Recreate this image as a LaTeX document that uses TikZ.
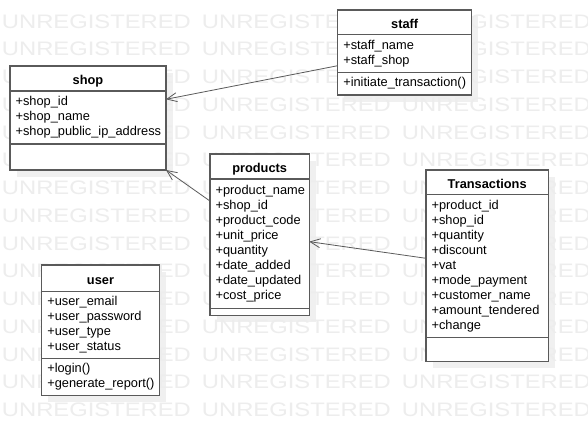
\documentclass[tikz,border=0pt]{standalone}
\usepackage{fontspec}
\setmainfont{Liberation Sans}
\usepackage{graphicx}
\usepackage{tikz}
\usetikzlibrary{arrows.meta, backgrounds}
\definecolor{wmgray}{HTML}{EDEDED}
\definecolor{shadowgray}{HTML}{F0F0F0}
\definecolor{linegray}{HTML}{5A5A5A}
\newcommand{\umlfont}{\fontsize{12.8}{15}\selectfont}
\tikzset{
  classhead/.style={draw=linegray, fill=white, line width=1.1pt, outer sep=0pt, anchor=north west, inner sep=0pt, minimum width=#1, text height=12pt, text depth=0pt, font=\umlfont\bfseries},
  classpart/.style={draw=linegray, fill=white, line width=1.1pt, outer sep=0pt, anchor=north west, inner xsep=5.6pt, inner ysep=0pt, text width=#1-11.2pt, align=left, font=\umlfont},
  assoc/.style={draw=linegray, line width=0.8pt, -{Straight Barb[length=10pt,width=9pt]}},
  watermark/.style={anchor=west, inner sep=0pt, text=wmgray, font=\fontsize{19.5}{19.5}\selectfont}
}

\begin{document}
\begin{tikzpicture}[x=1pt, y=-1pt]
        \useasboundingbox (0,0) rectangle (588,436);
        \clip (0,0) rectangle (588,436);
        \foreach \r in {0,...,14}{
          \foreach \c in {0,1,2}{
            \node[watermark] (wm-\r-\c) at (1.7+200*\c, 21.5+27.75*\r) {\scalebox{1.22}[1]{UNREGISTERED}};
          }
        }
        % shop
        \node[classhead=156pt, minimum height=25pt] (shop-t) at (10,66) {shop};
        \node[classpart=156pt, minimum height=53pt] (shop-a) at (shop-t.south west) {+shop\_id\\+shop\_name\\+shop\_public\_ip\_address};
        \node[classpart=156pt, minimum height=26pt] (shop-m) at (shop-a.south west) {};
        % staff
        \node[classhead=134pt, minimum height=24.3pt] (staff-t) at (337.7,10) {staff};
        \node[classpart=134pt, minimum height=38pt] (staff-a) at (staff-t.south west) {+staff\_name\\+staff\_shop};
        \node[classpart=134pt, minimum height=22.7pt] (staff-m) at (staff-a.south west) {+initiate\_transaction()};
        % products
        \node[classhead=99.3pt, minimum height=25pt] (prod-t) at (210,154) {products};
        \node[classpart=99.3pt, minimum height=129.3pt] (prod-a) at (prod-t.south west) {+product\_name\\+shop\_id\\+product\_code\\+unit\_price\\+quantity\\+date\_added\\+date\_updated\\+cost\_price};
        \node[classpart=99.3pt, minimum height=7.4pt] (prod-m) at (prod-a.south west) {};
        % Transactions
        \node[classhead=122.3pt, minimum height=24.3pt] (trans-t) at (426,170) {Transactions};
        \node[classpart=122.3pt, minimum height=143.4pt] (trans-a) at (trans-t.south west) {+product\_id\\+shop\_id\\+quantity\\+discount\\+vat\\+mode\_payment\\+customer\_name\\+amount\_tendered\\+change};
        \node[classpart=122.3pt, minimum height=24pt] (trans-m) at (trans-a.south west) {};
        % user
        \node[classhead=117.6pt, minimum height=26.7pt] (user-t) at (41.7,265) {user};
        \node[classpart=117.6pt, minimum height=66.6pt] (user-a) at (user-t.south west) {+user\_email\\+user\_password\\+user\_type\\+user\_status};
        \node[classpart=117.6pt, minimum height=37.4pt] (user-m) at (user-a.south west) {+login()\\+generate\_report()};
        \begin{scope}[on background layer]
          \fill[white] (0,0) rectangle (588,436);
          \foreach \n in {shop,staff,prod,trans,user}
            \fill[shadowgray] ([shift={(6.5,6.5)}]\n-t.north west) rectangle ([shift={(6.5,6.5)}]\n-m.south east);
        \end{scope}
        \draw[assoc] ([yshift=-12.4pt]staff-a.west) -- ([yshift=18.2pt]shop-a.east);
        \draw[assoc] ([yshift=42.6pt]prod-a.west) -- (shop-m.south east);
        \draw[assoc] ([yshift=7.7pt]trans-a.west) -- ([yshift=2pt]prod-a.east);
      \end{tikzpicture}
\end{document}
